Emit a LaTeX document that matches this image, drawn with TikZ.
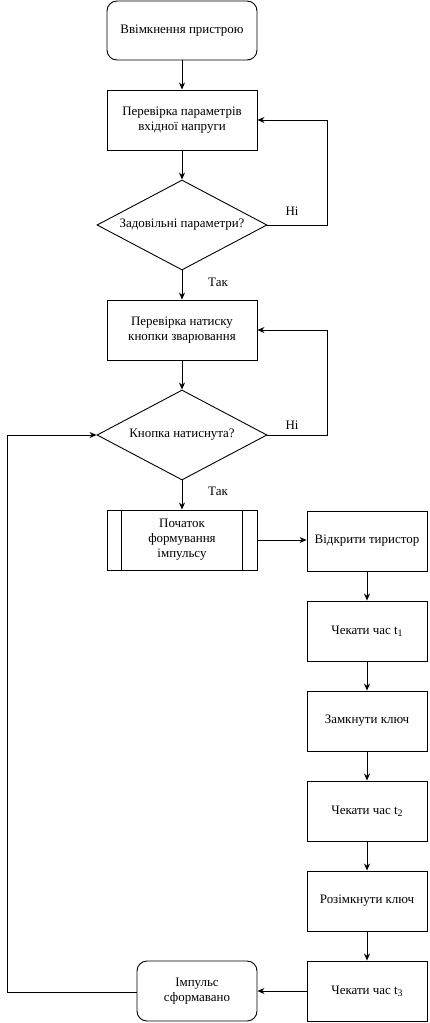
\documentclass[tikz,border=0pt]{standalone}
\usepackage{fontspec}
\setmainfont{Liberation Serif}
\usetikzlibrary{arrows.meta,shapes.geometric,calc}
\newcommand{\mysub}[1]{\raisebox{-0.35ex}{\fontsize{10}{10}\selectfont #1}}
\begin{document}
\begin{tikzpicture}[x=1bp,y=-1bp,
  every node/.style={font=\rmfamily\fontsize{13}{15}\selectfont, align=center, inner sep=0pt},
  base/.style={draw, line width=0.9bp},
  roundbox/.style={base, rounded corners=10bp, minimum width=150bp, minimum height=59bp},
  procbox/.style={base, minimum width=150bp, minimum height=60bp},
  rbox/.style={base, minimum width=120bp, minimum height=60bp},
  endbox/.style={base, rounded corners=10bp, minimum width=120bp, minimum height=60bp},
  decision/.style={base, shape=diamond, minimum width=170bp, minimum height=90bp, aspect=1.889},
  conn/.style={line width=0.9bp, -{Stealth[length=7bp,width=6bp]}}]
\useasboundingbox (0,0) rectangle (429,1023);

\node[roundbox] (start) at (182,30.5) {Ввімкнення пристрою};
\node[procbox] (check1) at (182,120) {Перевірка параметрів\\вхідної напруги};
\node[decision] (dec1) at (182,225) {};
\node (dec1t) at (182,225) {Задовільні параметри?};
\node[procbox] (check2) at (182,330) {Перевірка натиску\\кнопки зварювання};
\node[decision] (dec2) at (182,435) {};
\node (dec2t) at (182,435) {Кнопка натиснута?};
\node[procbox] (pulse) at (182,540) {Початок\\формування\\імпульсу};
\draw[line width=0.9bp] ($(pulse.north west)+(15,0)$) -- ($(pulse.south west)+(15,0)$);
\draw[line width=0.9bp] ($(pulse.north east)+(-15,0)$) -- ($(pulse.south east)+(-15,0)$);

\node[rbox] (open) at (367,541) {Відкрити тиристор};
\node[rbox] (wait1) at (367,631) {Чекати час t\mysub{1}};
\node[rbox] (close) at (367,721) {Замкнути ключ};
\node[rbox] (wait2) at (367,811) {Чекати час t\mysub{2}};
\node[rbox] (openkey) at (367,901) {Розімкнути ключ};
\node[rbox] (wait3) at (367,991) {Чекати час t\mysub{3}};
\node[endbox] (done) at (197,991) {Імпульс\\сформавано};

\coordinate (r1) at (327,225);
\coordinate (r1t) at (327,120);
\coordinate (r2) at (327,435);
\coordinate (r2t) at (327,330);
\coordinate (lb) at (7,992);
\coordinate (lt) at (7,435);

\draw[conn] (start) -- (check1);
\draw[conn] (check1) -- (dec1);
\draw[conn] (dec1) -- (check2);
\draw[conn] (dec1.east) -- (r1) -- (r1t) -- (check1.east);
\draw[conn] (check2) -- (dec2);
\draw[conn] (dec2.east) -- (r2) -- (r2t) -- (check2.east);
\draw[conn] (dec2) -- (pulse);
\draw[conn] (pulse.east) -- (open.west |- pulse.east);
\draw[conn] (open) -- (wait1);
\draw[conn] (wait1) -- (close);
\draw[conn] (close) -- (wait2);
\draw[conn] (wait2) -- (openkey);
\draw[conn] (openkey) -- (wait3);
\draw[conn] (wait3) -- (done);
\draw[conn] (done.west |- lb) -- (lb) -- (lt) -- (dec2.west);

\node (no1) at (292,211) {Ні};
\node (yes1) at (218,282) {Так};
\node (no2) at (292,425) {Ні};
\node (yes2) at (218,491) {Так};
\end{tikzpicture}
\end{document}
